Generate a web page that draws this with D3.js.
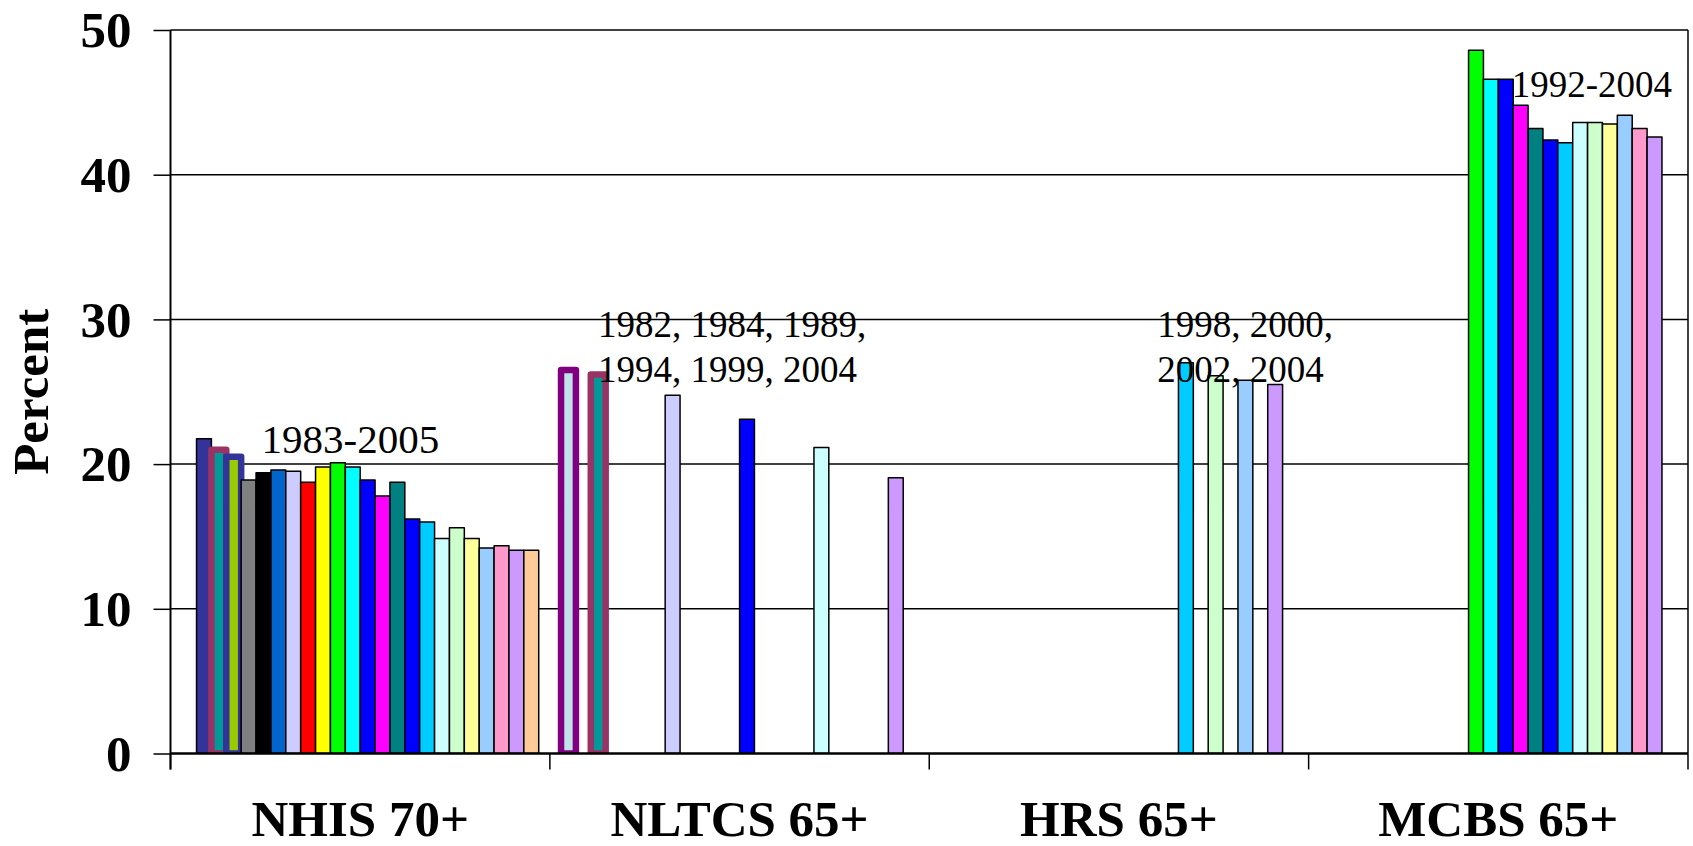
<!DOCTYPE html>
<html>
<head>
<meta charset="utf-8">
<script src="https://cdn.jsdelivr.net/npm/d3@7"></script>
<style>
  html, body { margin: 0; padding: 0; background: #fff; }
  svg { display: block; }
  text { font-family: "Liberation Serif", "Times New Roman", serif; }
</style>
</head>
<body>
<svg id="chart" width="1693" height="846"></svg>
<script>
// ---------- data ----------
const categories = ["NHIS 70+", "NLTCS 65+", "HRS 65+", "MCBS 65+"];
const years = ["1982","1983","1984","1985","1986","1987","1988","1989","1990","1991","1992","1993",
               "1994","1995","1996","1997","1998","1999","2000","2001","2002","2003","2004","2005"];
// values aligned with years (null = no survey that year)
const nhis  = [null, 21.75, 21.0, 20.5, 18.9, 19.4, 19.6, 19.5, 18.75, 19.8, 20.1, 19.8,
               18.9, 17.8, 18.75, 16.2, 16.0, 14.85, 15.6, 14.85, 14.2, 14.35, 14.05, 14.05];
const nltcs = [26.5, null, 26.2, null, null, null, null, 24.75, null, null, null, null,
               23.1, null, null, null, null, 21.15, null, null, null, null, 19.05, null];
const hrs   = [null, null, null, null, null, null, null, null, null, null, null, null,
               null, null, null, null, 27.0, null, 26.1, null, 25.8, null, 25.5, null];
const mcbs  = [null, null, null, null, null, null, null, null, null, null, 48.6, 46.6,
               46.6, 44.8, 43.2, 42.4, 42.2, 43.6, 43.6, 43.5, 44.1, 43.2, 42.6, null];
const seriesByCategory = [nhis, nltcs, hrs, mcbs];

const fills = ["#C0E2E8","#333399","#009999","#99CC00","#808080","#000000","#0066CC","#CCCCFF",
               "#FF0000","#FFFF00","#00FF00","#00FFFF","#0000FF","#FF00FF","#008080","#0000FF",
               "#00CCFF","#CCFFFF","#CCFFCC","#FFFF99","#99CCFF","#FF99CC","#CC99FF","#FFCC99"];
const borderColors = {"1982": "#800080", "1984": "#993366", "1985": "#333399"};

const yTicks = [0, 10, 20, 30, 40, 50];
const yLabel = "Percent";
const annotations = [
  {cat: "NHIS 70+",  lines: ["1983-2005"], size: 41},
  {cat: "NLTCS 65+", lines: ["1982, 1984, 1989,", "1994, 1999, 2004"], size: 37},
  {cat: "HRS 65+",   lines: ["1998, 2000,", "2002, 2004"], size: 37},
  {cat: "MCBS 65+",  lines: ["1992-2004"], size: 37}
];
// annotation anchor offsets (layout, relative to category band start / value scale)
const annoPos = {
  "NHIS 70+":  {dx: 91,  v: 20.77, dy: [0]},
  "NLTCS 65+": {dx: 48,  v: 28.75, dy: [0, 45]},
  "HRS 65+":   {dx: 228, v: 28.75, dy: [0, 45]},
  "MCBS 65+":  {dx: 203, v: 45.4,  dy: [0]}
};

// ---------- layout ----------
const pLeft = 170.5, pRight = 1688, pTop = 30, pBottom = 753.5;
const svg = d3.select("#chart");

svg.append("defs").append("clipPath").attr("id", "plotclip")
  .append("rect").attr("x", 0).attr("y", 0).attr("width", 1693).attr("height", pBottom);

const x0 = d3.scaleBand().domain(categories).range([pLeft, pRight]).padding(0);
const x1 = d3.scaleBand().domain(years).range([0, x0.bandwidth()]).paddingInner(0).paddingOuter(0.75);
const y = d3.scaleLinear().domain([0, 50]).range([pBottom, pTop]);

// gridlines
svg.append("g").selectAll("line").data(yTicks.filter(d => d > 0)).join("line")
  .attr("x1", pLeft).attr("x2", pRight)
  .attr("y1", d => y(d)).attr("y2", d => y(d))
  .attr("stroke", "#000").attr("stroke-width", 1.5);

// right border
svg.append("line").attr("x1", pRight).attr("x2", pRight).attr("y1", pTop).attr("y2", pBottom)
  .attr("stroke", "#000").attr("stroke-width", 1.5);

// bars
const barData = [];
categories.forEach((c, ci) => {
  seriesByCategory[ci].forEach((v, yi) => {
    if (v !== null) barData.push({cat: c, year: years[yi], yi: yi, value: v});
  });
});
barData.sort((a, b) => a.yi - b.yi || categories.indexOf(a.cat) - categories.indexOf(b.cat));

svg.append("g").attr("clip-path", "url(#plotclip)")
  .selectAll("rect").data(barData).join("rect")
  .attr("x", d => x0(d.cat) + x1(d.year))
  .attr("width", x1.bandwidth())
  .attr("y", d => y(d.value))
  .attr("height", d => y(0) - y(d.value))
  .attr("fill", d => fills[d.yi])
  .attr("stroke", d => borderColors[d.year] || "#000")
  .attr("stroke-width", d => borderColors[d.year] ? 6.5 : 1.5)
  .attr("stroke-linejoin", "round");

// y axis
const yAxis = svg.append("g").attr("transform", `translate(${pLeft},0)`)
  .call(d3.axisLeft(y).tickValues(yTicks).tickSize(17).tickPadding(22).tickFormat(d3.format("d")));
yAxis.select(".domain").attr("stroke", "#000").attr("stroke-width", 2)
  .attr("d", `M0,${pTop}V${pBottom + 16}`);
yAxis.selectAll(".tick line").attr("stroke", "#000").attr("stroke-width", 1.5);
yAxis.selectAll(".tick text")
  .attr("font-family", "'Liberation Serif', 'Times New Roman', serif")
  .attr("font-weight", "bold").attr("font-size", 51).attr("fill", "#000")
  .attr("dy", "0.33em");

// x axis
const xAxis = svg.append("g").attr("transform", `translate(0,${pBottom})`)
  .call(d3.axisBottom(x0).tickSize(0).tickPadding(0));
xAxis.select(".domain").attr("stroke", "#000").attr("stroke-width", 2.5)
  .attr("d", `M${pLeft},0H${pRight}`);
xAxis.selectAll(".tick text")
  .attr("font-family", "'Liberation Serif', 'Times New Roman', serif")
  .attr("font-weight", "bold").attr("font-size", 51).attr("fill", "#000")
  .attr("y", 82).attr("dy", 0);
// category boundary ticks
const boundaries = categories.map(c => x0(c)).concat([pRight]);
svg.append("g").selectAll("line").data(boundaries).join("line")
  .attr("x1", d => d).attr("x2", d => d)
  .attr("y1", pBottom).attr("y2", pBottom + 16)
  .attr("stroke", "#000").attr("stroke-width", 1.5);

// y label
svg.append("text")
  .attr("transform", `translate(48,${(pTop + pBottom) / 2}) rotate(-90)`)
  .attr("text-anchor", "middle")
  .attr("font-weight", "bold").attr("font-size", 51)
  .text(yLabel);

// annotations
annotations.forEach(a => {
  const p = annoPos[a.cat];
  a.lines.forEach((ln, i) => {
    svg.append("text")
      .attr("x", x0(a.cat) + p.dx)
      .attr("y", y(p.v) + p.dy[i])
      .attr("font-size", a.size)
      .attr("fill", "#000")
      .text(ln);
  });
});
</script>
</body>
</html>
